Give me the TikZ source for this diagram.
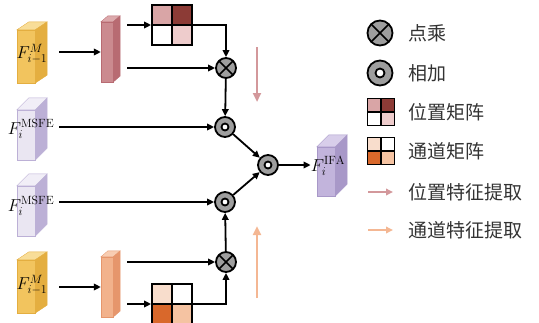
\documentclass[tikz,border=0pt]{standalone}
\usepackage{fontspec}
\newfontfamily\cjk{Noto Sans CJK SC}
\usetikzlibrary{arrows.meta}

\definecolor{ylwF}{HTML}{F2C45E}
\definecolor{ylwT}{HTML}{F8DD98}
\definecolor{ylwR}{HTML}{E4AE40}
\definecolor{msfF}{HTML}{EAE6F2}
\definecolor{msfT}{HTML}{F1EEF7}
\definecolor{msfR}{HTML}{BCB0D6}
\definecolor{ifaF}{HTML}{C2B4DC}
\definecolor{ifaT}{HTML}{D8CEEA}
\definecolor{ifaR}{HTML}{A898C8}
\definecolor{pnkF}{HTML}{CB8A8F}
\definecolor{pnkT}{HTML}{DCA9AC}
\definecolor{pnkR}{HTML}{B86B72}
\definecolor{orgF}{HTML}{F2B28C}
\definecolor{orgT}{HTML}{F8CDB2}
\definecolor{orgR}{HTML}{E6966C}
\definecolor{posA}{HTML}{D9A5A6}
\definecolor{posB}{HTML}{8C3B36}
\definecolor{posD}{HTML}{EECCCC}
\definecolor{chnA}{HTML}{F8DDCC}
\definecolor{chnC}{HTML}{D9682B}
\definecolor{chnD}{HTML}{F5C3A2}
\definecolor{posArr}{HTML}{D3989B}
\definecolor{chnArr}{HTML}{F4B793}

\tikzset{
	face/.style={draw=#1R, fill=#1F, line width=0.3pt, inner sep=0pt},
	lbl/.style={inner sep=0pt, font=\fontsize{17}{20}\selectfont},
	txt/.style={anchor=west, inner sep=0pt, text=black!80, font=\cjk\fontsize{19}{22}\selectfont},
	arr/.style={line width=1.8pt, -{Triangle[length=7pt, width=6.5pt]}},
	opr/.style={circle, draw, line width=1.8pt, fill=black!38, minimum size=20pt, inner sep=0pt},
	mul/.style={opr, path picture={
		\draw[line width=1.6pt] (path picture bounding box.north west) -- (path picture bounding box.south east)
			(path picture bounding box.north east) -- (path picture bounding box.south west);}},
	add/.style={opr, path picture={
		\draw[line width=1.8pt, fill=white] (path picture bounding box.center) circle (#1);}},
	add/.default=3.5pt,
	mat/.style n args={4}{draw, line width=1.8pt, minimum size=40pt, inner sep=0pt, path picture={
		\fill[#1] (path picture bounding box.center) rectangle (path picture bounding box.north west);
		\fill[#2] (path picture bounding box.center) rectangle (path picture bounding box.north east);
		\fill[#3] (path picture bounding box.center) rectangle (path picture bounding box.south west);
		\fill[#4] (path picture bounding box.center) rectangle (path picture bounding box.south east);
		\draw[line width=1.8pt] (path picture bounding box.north) -- (path picture bounding box.south)
			(path picture bounding box.west) -- (path picture bounding box.east);}},
	posmat/.style={mat={posA}{posB}{white}{posD}},
	chnmat/.style={mat={chnA}{white}{chnC}{chnD}},
}

\begin{document}
\begin{tikzpicture}[x=1pt, y=-1pt]
	\useasboundingbox (0,0) rectangle (539,322);
	
	% feature blocks (front faces)
	\node[face=ylw, minimum width=18pt, minimum height=53pt] (fa) at (26,56.5) {};
	\node[face=msf, minimum width=18pt, minimum height=50pt] (fb) at (26,135) {};
	\node[face=msf, minimum width=18pt, minimum height=50pt] (fc) at (26,211) {};
	\node[face=ylw, minimum width=18pt, minimum height=53pt] (fd) at (26,286.5) {};
	\node[face=pnk, minimum width=12pt, minimum height=60pt] (pa) at (107,52) {};
	\node[face=org, minimum width=12pt, minimum height=60pt] (pb) at (107,287) {};
	\node[face=ifa, minimum width=18pt, minimum height=49pt] (fo) at (326,171.5) {};
	
	% top and side faces
	\foreach \n/\c/\dx/\dy in {fa/ylw/12/-8, fd/ylw/12/-8, fb/msf/12/-12, fc/msf/12/-12, fo/ifa/12/-12, pa/pnk/7/-6, pb/org/7/-6}{
		\filldraw[draw=\c R, fill=\c T, line width=0.3pt] (\n.north west) -- ([shift={(\dx,\dy)}]\n.north west)
			-- ([shift={(\dx,\dy)}]\n.north east) -- (\n.north east) -- cycle;
		\filldraw[draw=\c R, fill=\c R, line width=0.3pt] (\n.north east) -- ([shift={(\dx,\dy)}]\n.north east)
			-- ([shift={(\dx,\dy)}]\n.south east) -- (\n.south east) -- cycle;
	}
	
	\node[lbl] (la) at (32,54) {$F_{i-1}^{M}$};
	\node[lbl] (lb) at (31,129) {$F_i^{\mathrm{MSFE}}$};
	\node[lbl] (lc) at (31,206) {$F_i^{\mathrm{MSFE}}$};
	\node[lbl] (ld) at (32,285) {$F_{i-1}^{M}$};
	\node[lbl] (lo) at (328,166) {$F_i^{\mathrm{IFA}}$};
	
	% matrices and operators
	\node[posmat] (ma) at (172,25) {};
	\node[chnmat] (mb) at (172,304) {};
	\node[mul] (xa) at (226,68) {};
	\node[mul] (xb) at (226,262) {};
	\node[add] (oa) at (225,127) {};
	\node[add] (ob) at (225,202) {};
	\node[add] (oc) at (268,165) {};
	
	\draw[arr, shorten <=24pt] (fa.east |- pa) -- (pa.west);
	\draw[arr, shorten <=24pt] (fd.east |- pb) -- (pb.west);
	\draw[arr, shorten <=14pt] (pa.east |- ma) -- (ma.west);
	\draw[arr, shorten <=14pt] (pa.east |- xa) -- (xa);
	\draw[arr, shorten <=14pt] (pb.east |- mb) -- (mb.west);
	\draw[arr, shorten <=14pt] (pb.east |- xb) -- (xb);
	\draw[arr] (ma.east) -| (xa.north);
	\draw[arr] (mb.east) -| (xb.south);
	\draw[arr] (xa) -- (oa);
	\draw[arr] (xb) -- (ob);
	\draw[arr, shorten <=24pt] (fb.east |- oa) -- (oa);
	\draw[arr, shorten <=24pt] (fc.east |- ob) -- (ob);
	\draw[arr] (oa) -- (oc);
	\draw[arr] (ob) -- (oc);
	\draw[arr] (oc) -- (oc -| lo.west);
	
	% direction arrows
	\coordinate (pu) at (257,47);
	\coordinate (pd) at (257,102);
	\coordinate (cu) at (257,226);
	\coordinate (cd) at (257,298);
	\draw[line width=2.4pt, draw=posArr, -{Triangle[length=9pt, width=8pt]}] (pu) -- (pd);
	\draw[line width=2.4pt, draw=chnArr, -{Triangle[length=9pt, width=8pt]}] (cd) -- (cu);
	
	% legend
	\node[mul, minimum size=25pt] (kx) at (380,33) {};
	\node[add=4.5pt, minimum size=25pt] (ko) at (380,73) {};
	\node[posmat, minimum size=27pt] (km) at (381,112) {};
	\node[chnmat, minimum size=27pt] (kc) at (381,151) {};
	\coordinate (ka) at (368,192);
	\coordinate (kb) at (393,192);
	\coordinate (kd) at (368,230);
	\coordinate (ke) at (393,230);
	\draw[line width=2pt, draw=posArr, -{Triangle[length=7pt, width=6.5pt]}] (ka) -- (kb);
	\draw[line width=2pt, draw=chnArr, -{Triangle[length=7pt, width=6.5pt]}] (kd) -- (ke);
	
	\node[txt] (tx) at (408,33) {点乘};
	\node[txt] (to) at (408,73) {相加};
	\node[txt] (tm) at (408,112) {位置矩阵};
	\node[txt] (tc) at (408,151) {通道矩阵};
	\node[txt] (tp) at (408,192) {位置特征提取};
	\node[txt] (tq) at (408,230) {通道特征提取};
\end{tikzpicture}
\end{document}
